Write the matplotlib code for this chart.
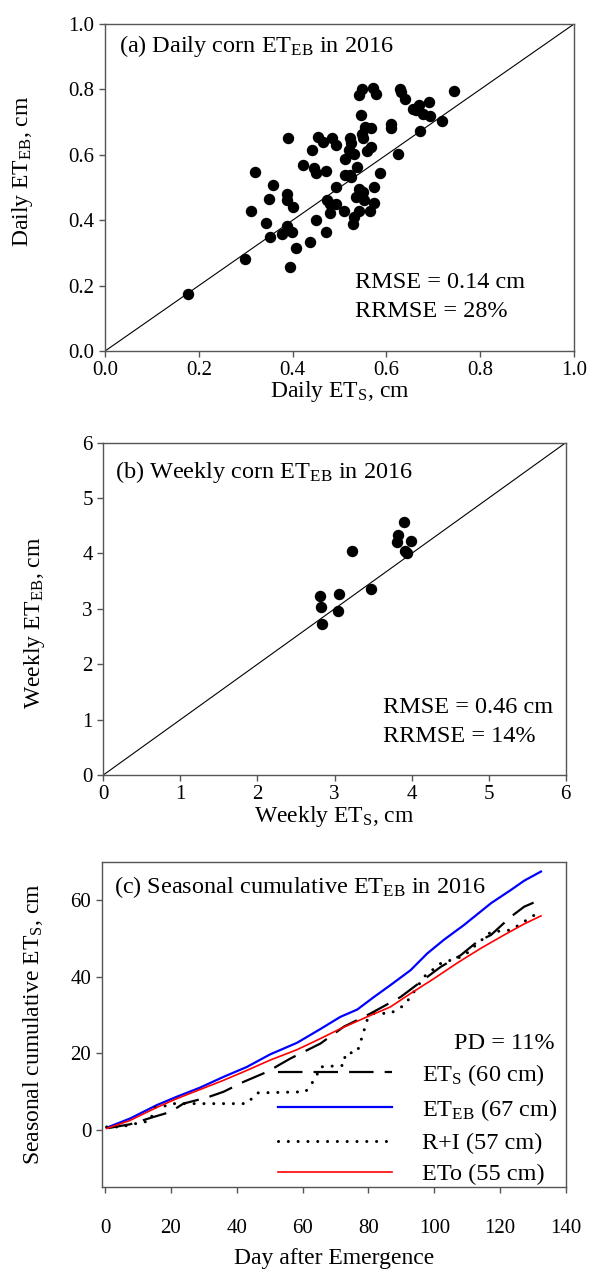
import matplotlib
matplotlib.use('Agg')
import matplotlib.pyplot as plt

plt.rcParams['font.family'] = ['Liberation Serif', 'DejaVu Serif']
plt.rcParams['mathtext.fontset'] = 'custom'
plt.rcParams['mathtext.rm'] = 'Liberation Serif'
plt.rcParams['mathtext.default'] = 'regular'

# (a) daily ET, cm
daily_ets = [0.176, 0.299, 0.394, 0.312, 0.319, 0.343, 0.349, 0.358, 0.351, 0.377,
             0.387, 0.399, 0.388, 0.388, 0.401, 0.390, 0.408, 0.422, 0.437, 0.441,
             0.445, 0.449, 0.449, 0.455, 0.465, 0.471, 0.471, 0.473, 0.479, 0.480,
             0.485, 0.492, 0.492, 0.492, 0.509, 0.512, 0.511, 0.521, 0.523, 0.524,
             0.523, 0.524, 0.531, 0.529, 0.530, 0.537, 0.541, 0.541, 0.549, 0.546,
             0.548, 0.551, 0.555, 0.559, 0.567, 0.567, 0.542, 0.551, 0.536, 0.553,
             0.564, 0.573, 0.574, 0.571, 0.577, 0.587, 0.610, 0.610, 0.625, 0.629,
             0.632, 0.640, 0.656, 0.664, 0.669, 0.671, 0.677, 0.690, 0.694, 0.719,
             0.744]
daily_eteb = [0.173, 0.280, 0.256, 0.429, 0.549, 0.392, 0.466, 0.508, 0.350, 0.357,
              0.381, 0.365, 0.480, 0.462, 0.441, 0.650, 0.314, 0.569, 0.334, 0.615,
              0.561, 0.545, 0.400, 0.656, 0.639, 0.550, 0.365, 0.462, 0.450, 0.421,
              0.650, 0.630, 0.450, 0.501, 0.428, 0.587, 0.538, 0.615, 0.650, 0.637,
              0.538, 0.531, 0.601, 0.388, 0.411, 0.562, 0.428, 0.783, 0.800, 0.722,
              0.664, 0.650, 0.686, 0.612, 0.681, 0.625, 0.497, 0.487, 0.472, 0.462,
              0.429, 0.501, 0.454, 0.805, 0.785, 0.543, 0.694, 0.681, 0.601, 0.800,
              0.791, 0.771, 0.739, 0.737, 0.752, 0.673, 0.725, 0.762, 0.719, 0.704,
              0.795]

# (b) weekly ET, cm
weekly_ets = [3.90, 3.83, 3.81, 3.99, 3.92, 3.94, 3.23, 2.81, 3.06, 2.83, 3.05, 2.84, 3.48]
weekly_eteb = [4.56, 4.33, 4.21, 4.22, 4.04, 4.00, 4.05, 3.24, 3.27, 3.04, 2.96, 2.73, 3.35]

# (c) seasonal cumulative, cm
eteb_day = [0.5, 7.6, 15.7, 21.8, 28.9, 36.0, 43.1, 50.2, 58.3, 65.4, 71.5, 76.6,
            81.7, 86.7, 92.8, 97.9, 103, 109, 117.2, 123.3, 127.3, 132.4]
eteb_cum = [0.5, 2.9, 6.4, 8.6, 11.0, 13.8, 16.4, 19.7, 22.7, 26.3, 29.5, 31.4,
            34.7, 37.8, 41.7, 46.1, 49.7, 53.5, 59.2, 62.7, 65.1, 67.5]
eto_day = [0.5, 7.6, 15.7, 21.8, 28.9, 36.0, 43.1, 50.2, 58.3, 65.4, 71.5, 79.6,
           86.7, 92.8, 99.9, 107, 114.1, 121.2, 127.3, 132.4]
eto_cum = [0.3, 2.4, 5.8, 8.1, 10.5, 12.9, 15.5, 18.2, 20.9, 23.8, 26.4, 29.5,
           32.1, 35.6, 39.5, 43.6, 47.4, 50.9, 53.8, 55.9]
ets_day = [1, 7.6, 14.7, 19.8, 23.8, 31, 36, 42.1, 49.2, 56.3, 65.4, 72.5, 80.7,
           89.8, 93.8, 102, 108, 113, 117.2, 123.3, 127.3, 132.4]
ets_cum = [0.4, 1.4, 3.3, 4.6, 6.8, 8.4, 9.9, 12.5, 15.1, 18.6, 22.5, 26.9, 30.4,
           34.7, 37.3, 42.6, 45.6, 49.1, 50.9, 55.7, 58.3, 60.2]
ri_day = [0.5, 5.6, 6.6, 13.7, 15.2, 19.8, 20.8, 43.1, 46.2, 60.9, 63.9, 65.4, 72.5,
          73, 76.6, 78.1, 79.6, 81.7, 86.7, 90.8, 92.8, 96.9, 102, 109, 112, 117.2,
          123.3, 127.3, 132.4]
ri_cum = [0.7, 0.7, 1.1, 2.3, 5.8, 6.4, 6.8, 6.8, 9.6, 9.9, 13.4, 16.4, 16.8,
          19.9, 20.3, 24.3, 28.6, 30.4, 30.4, 32.5, 34.7, 40.0, 43.5, 45.4, 47.8, 51.7,
          52.2, 54.4, 57.2]

FS_TICK = 15
FS_LABEL = 17
FS_TEXT = 17.5
SPINE = '#555555'

fig = plt.figure(figsize=(5.9, 12.77), dpi=100)
ax_a = fig.add_axes([0.178, 0.7251, 0.7949, 0.2561])
ax_b = fig.add_axes([0.1751, 0.3931, 0.7837, 0.2602])
ax_c = fig.add_axes([0.1724, 0.0705, 0.7869, 0.2545])

for ax in (ax_a, ax_b, ax_c):
    for s in ax.spines.values():
        s.set_color(SPINE)
        s.set_linewidth(1.0)
    ax.tick_params(direction='out', length=4, width=1.0, color=SPINE, labelsize=FS_TICK)

# panel a
ax_a.plot([0, 1], [0, 1], color='black', lw=0.8)
ax_a.scatter(daily_ets, daily_eteb, s=52, color='black', zorder=3)
ax_a.set_xlim(0, 1)
ax_a.set_ylim(0, 1)
ax_a.set_xticks([0, 0.2, 0.4, 0.6, 0.8, 1.0])
ax_a.set_yticks([0, 0.2, 0.4, 0.6, 0.8, 1.0])
ax_a.set_xticklabels(['0.0', '0.2', '0.4', '0.6', '0.8', '1.0'])
ax_a.set_yticklabels(['0.0', '0.2', '0.4', '0.6', '0.8', '1.0'])
ax_a.set_xlabel(r'Daily ET$_S$, cm', fontsize=FS_LABEL, labelpad=-1)
ax_a.set_ylabel(r'Daily ET$_{EB}$, cm', fontsize=FS_LABEL)
ax_a.yaxis.set_label_coords(-0.15, 0.55)
ax_a.text(0.03, 0.914, r'(a) Daily corn ET$_{EB}$ in 2016', transform=ax_a.transAxes,
          fontsize=FS_TEXT, va='baseline')
ax_a.text(0.533, 0.193, 'RMSE = 0.14 cm', transform=ax_a.transAxes, fontsize=FS_TEXT, va='baseline')
ax_a.text(0.533, 0.104, 'RRMSE = 28%', transform=ax_a.transAxes, fontsize=FS_TEXT, va='baseline')

# panel b
ax_b.plot([0, 6], [0, 6], color='black', lw=0.8)
ax_b.scatter(weekly_ets, weekly_eteb, s=52, color='black', zorder=3)
ax_b.set_xlim(0, 6)
ax_b.set_ylim(0, 6)
ax_b.set_xticks(range(0, 7))
ax_b.set_yticks(range(0, 7))
ax_b.set_xlabel(r'Weekly ET$_S$, cm', fontsize=FS_LABEL, labelpad=0)
ax_b.set_ylabel(r'Weekly ET$_{EB}$, cm', fontsize=FS_LABEL)
ax_b.yaxis.set_label_coords(-0.122, 0.457)
ax_b.text(0.025, 0.894, r'(b) Weekly corn ET$_{EB}$ in 2016', transform=ax_b.transAxes,
          fontsize=FS_TEXT, va='baseline')
ax_b.text(0.604, 0.187, 'RMSE = 0.46 cm', transform=ax_b.transAxes, fontsize=FS_TEXT, va='baseline')
ax_b.text(0.604, 0.099, 'RRMSE = 14%', transform=ax_b.transAxes, fontsize=FS_TEXT, va='baseline')

# panel c
ax_c.plot(ets_day, ets_cum, color='black', lw=1.6, dashes=(11, 5), label=r'ET$_S$ (60 cm)')
ax_c.plot(eteb_day, eteb_cum, color='#0000ff', lw=1.6, label=r'ET$_{EB}$ (67 cm)')
ax_c.plot(ri_day, ri_cum, color='black', lw=2.2, linestyle=(0, (0.01, 3.2)),
          dash_capstyle='round', label='R+I (57 cm)')
ax_c.plot(eto_day, eto_cum, color='#ff0000', lw=1.2, label='ETo (55 cm)')
ax_c.set_xlim(-1, 140)
ax_c.set_ylim(-15, 70)
ax_c.set_xticks(range(0, 141, 20))
ax_c.set_yticks([0, 20, 40, 60])
ax_c.tick_params(axis='x', pad=19)
ax_c.set_xlabel('Day after Emergence', fontsize=FS_LABEL, labelpad=7)
ax_c.set_ylabel(r'Seasonal cumulative ET$_S$, cm', fontsize=FS_LABEL)
ax_c.yaxis.set_label_coords(-0.122, 0.5)
ax_c.text(0.0265, 0.904, r'(c) Seasonal cumulative ET$_{EB}$ in 2016', transform=ax_c.transAxes,
          fontsize=FS_TEXT, va='baseline')
ax_c.text(0.976, 0.425, 'PD = 11%', transform=ax_c.transAxes, fontsize=FS_TEXT,
          ha='right', va='baseline')
ax_c.legend(loc='lower left', bbox_to_anchor=(0.38, 0.005), frameon=False, fontsize=FS_TEXT,
            handlelength=4.7, handletextpad=1.23, labelspacing=0.38, borderpad=0,
            borderaxespad=0)

fig.savefig('out.png', dpi=100)
